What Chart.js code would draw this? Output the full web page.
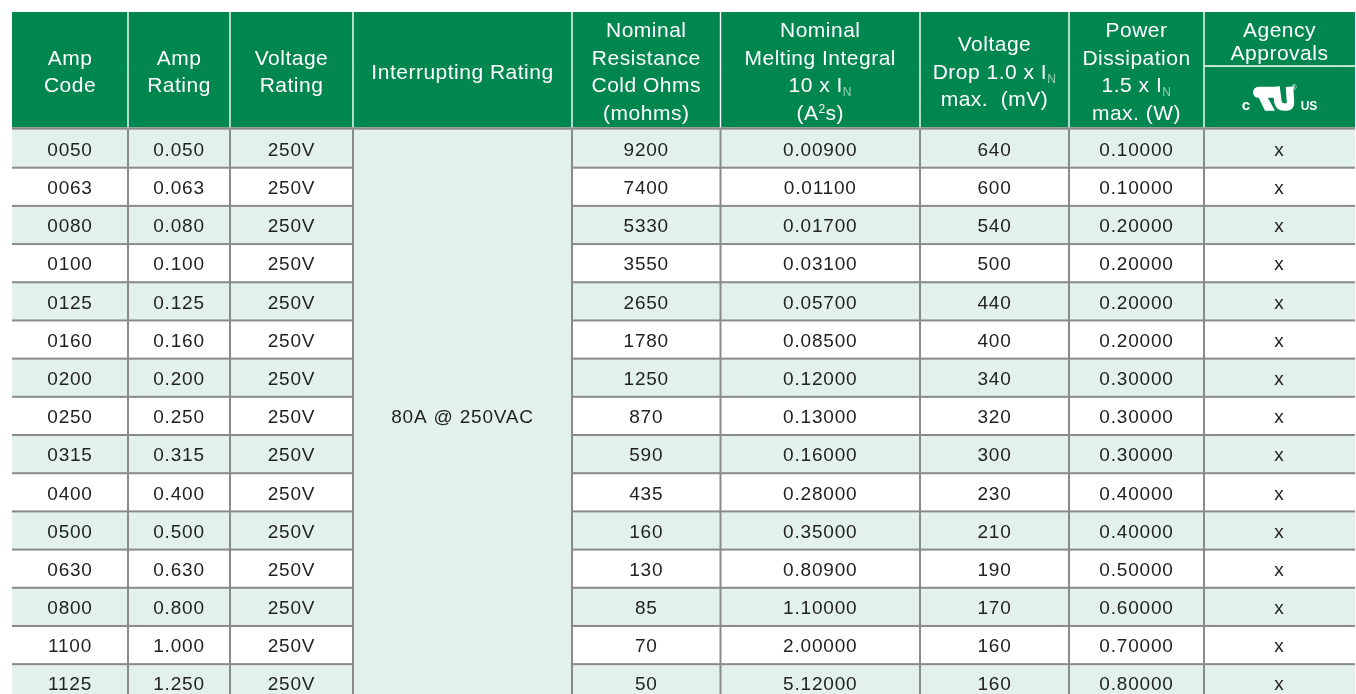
<!DOCTYPE html>
<html><head><meta charset="utf-8">
<script src="https://cdn.jsdelivr.net/npm/chart.js@4.4.1/dist/chart.umd.min.js"></script>
<style>
html,body{margin:0;padding:0;overflow:hidden;background:#fff}
#wrap{position:absolute;left:0;top:0;width:1356px;height:703px}
</style>
</head><body>
<div id="wrap"><canvas id="c"></canvas></div>
<script>
// ---- data ----
const ampCodes = ['0050','0063','0080','0100','0125','0160','0200','0250','0315','0400','0500','0630','0800','1100','1125'];
const ampRatings = ['0.050','0.063','0.080','0.100','0.125','0.160','0.200','0.250','0.315','0.400','0.500','0.630','0.800','1.000','1.250'];
const voltageRatings = ['250V','250V','250V','250V','250V','250V','250V','250V','250V','250V','250V','250V','250V','250V','250V'];
const interruptingRating = '80A @ 250VAC';
const coldResistance = ['9200','7400','5330','3550','2650','1780','1250','870','590','435','160','130','85','70','50'];
const meltingIntegral = ['0.00900','0.01100','0.01700','0.03100','0.05700','0.08500','0.12000','0.13000','0.16000','0.28000','0.35000','0.80900','1.10000','2.00000','5.12000'];
const voltageDrop = ['640','600','540','500','440','400','340','320','300','230','210','190','170','160','160'];
const powerDissipation = ['0.10000','0.10000','0.20000','0.20000','0.20000','0.20000','0.30000','0.30000','0.30000','0.40000','0.40000','0.50000','0.60000','0.70000','0.80000'];
const agencyApprovals = ['x','x','x','x','x','x','x','x','x','x','x','x','x','x','x'];
const headerLabels = [
  ['Amp','Code'],
  ['Amp','Rating'],
  ['Voltage','Rating'],
  ['Interrupting Rating'],
  ['Nominal','Resistance','Cold Ohms','(mohms)'],
  ['Nominal','Melting Integral','10 x I_N','(A^2s)'],
  ['Voltage','Drop 1.0 x I_N','max.  (mV)'],
  ['Power','Dissipation','1.5 x I_N','max. (W)'],
  ['Agency','Approvals']
];

// ---- layout / style ----
const columnEdges = [0,116,218,341,560,708.5,908,1057,1192,1343];
const TABLE_W = 1343;
const HEAD_TOP = 12;
const BODY_TOP = 129.5;
const ROW_H = 38.19;
const GREEN = '#00864f';
const LIGHT = '#e2f1eb';
const GRID = '#8a8a8a';
const TEXT = '#222222';
const FONT = '"Liberation Sans", Arial, sans-serif';

const bodyColumns = [ampCodes, ampRatings, voltageRatings, null, coldResistance, meltingIntegral, voltageDrop, powerDissipation, agencyApprovals];
const canvasH = 703;
const padBottom = canvasH - BODY_TOP - ROW_H * ampCodes.length;

function drawRich(ctx, str, cx, baseY, size) {
  ctx.font = size + 'px ' + FONT;
  ctx.letterSpacing = '0.5px';
  const parts = [];
  let re = /(_|\^)(.)/g, last = 0, m;
  while ((m = re.exec(str))) {
    if (m.index > last) parts.push({t: str.slice(last, m.index), k: 'n'});
    parts.push({t: m[2], k: m[1] === '_' ? 'sub' : 'sup'});
    last = m.index + 2;
  }
  if (last < str.length) parts.push({t: str.slice(last), k: 'n'});
  const small = Math.round(size * 0.58);
  let w = 0;
  parts.forEach(p => {
    ctx.font = (p.k === 'n' ? size : small) + 'px ' + FONT;
    p.w = ctx.measureText(p.t).width; w += p.w;
  });
  let x = cx - w / 2;
  ctx.textAlign = 'left';
  parts.forEach(p => {
    ctx.font = (p.k === 'n' ? size : small) + 'px ' + FONT;
    if (p.k === 'sub') { ctx.fillStyle = 'rgba(255,255,255,0.6)'; ctx.fillText(p.t, x, baseY + 4); }
    else if (p.k === 'sup') { ctx.fillStyle = '#fff'; ctx.fillText(p.t, x, baseY - 7); }
    else { ctx.fillStyle = '#fff'; ctx.fillText(p.t, x, baseY); }
    x += p.w;
  });
}

function drawULLogo(ctx, ox, oy) {
  ctx.save();
  ctx.fillStyle = '#fff';
  ctx.strokeStyle = '#fff';
  ctx.letterSpacing = '0px';
  ctx.textAlign = 'center';
  ctx.font = 'bold 15px ' + FONT;
  ctx.fillText('c', ox - 7, oy + 22.5);
  ctx.font = 'bold 12px ' + FONT;
  ctx.fillText('US', ox + 56, oy + 22.4);
  ctx.font = '7px ' + FONT;
  ctx.fillText('®', ox + 41, oy + 3);
  // reversed R bowl
  ctx.beginPath();
  ctx.roundRect(ox, oy - 0.5, 26, 11, [5.5, 0, 0, 5.5]);
  ctx.fill();
  // leg
  ctx.beginPath();
  ctx.moveTo(ox + 5, oy + 9);
  ctx.lineTo(ox + 14, oy + 9);
  ctx.lineTo(ox + 22, oy + 23.5);
  ctx.lineTo(ox + 12, oy + 23.5);
  ctx.closePath();
  ctx.fill();
  // U
  ctx.lineWidth = 7.5;
  ctx.lineJoin = 'round';
  ctx.beginPath();
  ctx.moveTo(ox + 23, oy - 0.5);
  ctx.lineTo(ox + 25, oy + 15);
  ctx.quadraticCurveTo(ox + 26, oy + 19.7, ox + 31, oy + 19.7);
  ctx.lineTo(ox + 33, oy + 19.7);
  ctx.quadraticCurveTo(ox + 37.5, oy + 19.7, ox + 37.5, oy + 15);
  ctx.lineTo(ox + 36.5, oy - 0.5);
  ctx.stroke();
  ctx.restore();
}

const tablePlugin = {
  id: 'tablePlugin',
  afterDatasetsDraw(chart) {
    const {ctx, chartArea: ca, scales: {x, y}} = chart;
    const px = v => x.getPixelForValue(v);
    const n = ampCodes.length;
    const band = y.getPixelForValue(1) - y.getPixelForValue(0);
    ctx.save();
    // merged interrupting-rating cell
    ctx.fillStyle = LIGHT;
    ctx.fillRect(px(columnEdges[3]), ca.top, px(columnEdges[4]) - px(columnEdges[3]), ca.bottom - ca.top);
    // horizontal row lines
    ctx.fillStyle = GRID;
    for (let i = 1; i < n; i++) {
      const yy = y.getPixelForValue(i) - band / 2;
      ctx.fillRect(px(columnEdges[0]), yy - 1, px(columnEdges[3]) - px(columnEdges[0]), 2);
      ctx.fillRect(px(columnEdges[4]), yy - 1, px(columnEdges[9]) - px(columnEdges[4]), 2);
    }
    // vertical body lines
    for (let c = 1; c < columnEdges.length - 1; c++) {
      ctx.fillRect(px(columnEdges[c]) - 1, ca.top, 2, ca.bottom - ca.top);
    }
    // header
    const headBottom = ca.top - 2.2;
    ctx.fillStyle = GREEN;
    ctx.fillRect(px(0), HEAD_TOP, px(TABLE_W) - px(0), headBottom - HEAD_TOP);
    ctx.fillStyle = GRID;
    ctx.fillRect(px(0), headBottom, px(TABLE_W) - px(0), 2.4);
    ctx.fillStyle = 'rgba(255,255,255,0.035)';
    ctx.fillRect(px(0), 66, px(columnEdges[8]) - px(0), 1);
    ctx.fillStyle = '#ffffff';
    for (let c = 1; c < columnEdges.length - 1; c++) {
      ctx.fillRect(px(columnEdges[c]) - 0.7, HEAD_TOP, 1.4, headBottom - HEAD_TOP);
    }
    ctx.fillRect(px(columnEdges[8]), 65.3, px(columnEdges[9]) - px(columnEdges[8]), 1.5);
    // header text
    const hSize = 21;
    headerLabels.forEach((lines, c) => {
      const cx = (px(columnEdges[c]) + px(columnEdges[c + 1])) / 2;
      let center = 71, sp = 27.5;
      if (c === 8) { center = 40.5; sp = 23; }
      lines.forEach((t, k) => {
        const cy = center + (k - (lines.length - 1) / 2) * sp;
        drawRich(ctx, t, cx, cy + 0.36 * hSize, hSize);
      });
    });
    drawULLogo(ctx, px(columnEdges[8]) + 49, 87.3);
    // body text
    ctx.fillStyle = TEXT;
    ctx.font = '19px ' + FONT;
    ctx.letterSpacing = '0.8px';
    ctx.textAlign = 'center';
    ctx.textBaseline = 'alphabetic';
    bodyColumns.forEach((col, c) => {
      if (!col) return;
      const cx = (px(columnEdges[c]) + px(columnEdges[c + 1])) / 2;
      col.forEach((v, i) => {
        ctx.fillText(v, cx, y.getPixelForValue(i) + 0.4 + 0.358 * 19);
      });
    });
    const mcx = (px(columnEdges[3]) + px(columnEdges[4])) / 2;
    const mcy = (y.getPixelForValue(0) + y.getPixelForValue(n - 1)) / 2;
    ctx.fillText(interruptingRating, mcx, mcy + 0.358 * 19);
    ctx.restore();
  }
};

new Chart(document.getElementById('c'), {
  type: 'bar',
  data: {
    labels: ampCodes,
    datasets: [{
      data: ampCodes.map(() => [0, TABLE_W]),
      backgroundColor: ampCodes.map((_, i) => i % 2 === 0 ? LIGHT : '#ffffff'),
      borderWidth: 0,
      barPercentage: 1,
      categoryPercentage: 1
    }]
  },
  options: {
    indexAxis: 'y',
    responsive: true,
    maintainAspectRatio: false,
    animation: false,
    events: [],
    layout: { padding: { left: 12, right: 1, top: BODY_TOP, bottom: padBottom } },
    plugins: { legend: { display: false }, tooltip: { enabled: false } },
    scales: {
      x: { type: 'linear', min: 0, max: TABLE_W, display: false },
      y: { type: 'category', display: false, offset: true, grid: { offset: true } }
    }
  },
  plugins: [tablePlugin]
});
</script>
</body></html>
